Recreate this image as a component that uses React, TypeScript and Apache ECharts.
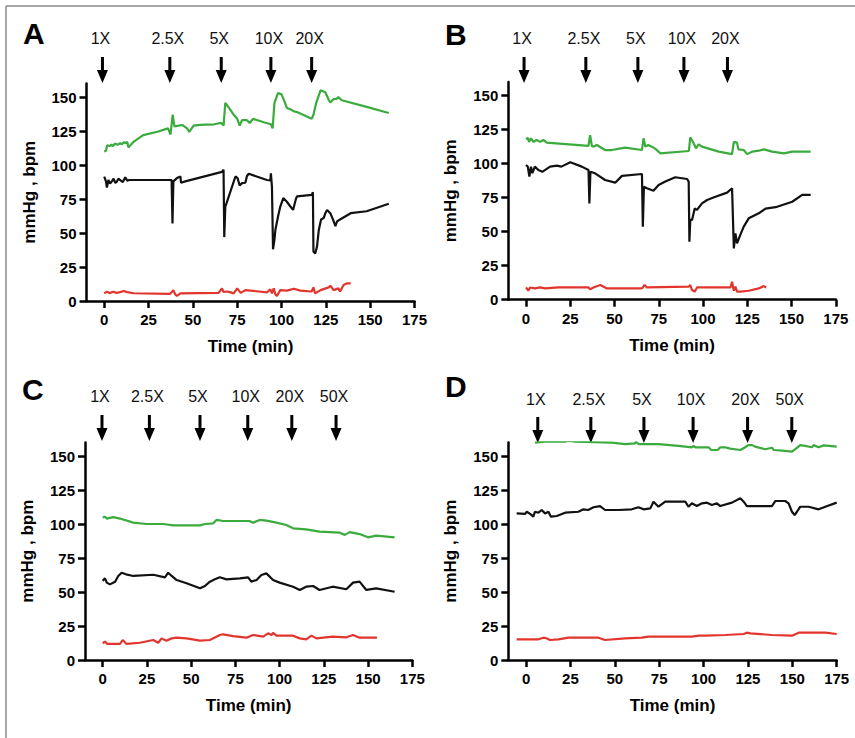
import React, { useEffect, useRef } from "react";
import * as echarts from "echarts";

// ---------- data ----------
const xTicks = [0, 25, 50, 75, 100, 125, 150, 175];
const yTicks = [0, 25, 50, 75, 100, 125, 150];
const panelLetters = ["A", "B", "C", "D"];

const doseLabels5 = ["1X", "2.5X", "5X", "10X", "20X"];
const doseLabels6 = ["1X", "2.5X", "5X", "10X", "20X", "50X"];
const doseTimesA = [-1, 37, 66, 94, 117];
const doseTimesB = [-1.1, 33.8, 63.2, 89.2, 113.8];
const doseTimesC = [-0.4, 26.4, 55, 82, 106.9, 131.9];
const doseTimesD = [6.6, 36.5, 66.4, 94.1, 124.8, 149.7];

const aGreen = [[0,110],[1,110.5],[1.6,114.5],[3,114],[4,115],[5,114],[6,115.8],[7.5,115],[9,116],[10,115.2],[11,116.8],[12,116.2],[13,117],[13.6,113],[15,115],[16.5,117],[22,122],[30,124.5],[36,127],[37.4,122.5],[38.6,137],[39.6,128.5],[42,129],[44,129.5],[46.7,127],[48,124.5],[50.4,129],[54,129.5],[62,130],[66,131],[67.3,129],[68.3,145.7],[71,141],[73,137],[75,134],[76.4,129],[77.7,133],[80.5,133],[82,131],[84,134],[90,131.5],[94,130],[95,127],[96,145.7],[98,153],[100,152],[101.6,147],[103,142],[105,141],[107,139.5],[108.7,139],[117,134],[118,137],[119.6,146],[122,155],[124.7,153.6],[126.6,148],[127.5,146],[129.4,148.6],[131,148.6],[132,150],[134,147.7],[148,142.8],[160.5,138.3]];
const aBlack = [[0,91.5],[1,88],[1.5,83.5],[2.4,89],[3.3,86.5],[4.3,88],[5.3,90],[6.2,87],[7,87.5],[8,90],[9,89],[10.5,87.5],[11.9,91],[13,88.5],[14,89],[16.5,89],[38,89],[38.5,57],[39,88],[41,90.4],[43,91.6],[43.3,87],[45.7,88],[66.4,95],[67.3,96.6],[67.7,47],[68.3,69.5],[69,72],[74,91.6],[75.2,90.4],[76.4,85],[77.7,86.7],[79.6,87],[80.5,92],[81.5,93.6],[91.8,89],[93.7,88.7],[94,94],[94.6,84],[95.2,38],[96,45],[96.5,52],[98,62],[99.3,69.5],[101,75.7],[103,73],[105,69.5],[106.5,67],[108,74.5],[108.7,77],[117,78],[117.7,80],[118,36.4],[119,35],[120,40],[121,52],[122.3,60],[123.8,61],[124.7,64.6],[125.7,67],[127.5,64.6],[129,60],[130.4,55],[131.3,58.5],[133,60],[139,64.6],[148,66],[160.5,71.5]];
const aRed = [[0,5.6],[1.5,6.9],[3,5.8],[5,6.8],[7,6],[9,6.5],[11,7.4],[13,6.5],[16.5,5.7],[37,5.2],[38,6.5],[39,8],[40,5],[41,3.7],[43,5.6],[64.5,6],[66.4,9.3],[67.3,6.6],[69,7],[71,6.5],[73,5.6],[75,9.3],[77,6],[79.6,8],[91.8,6.4],[93.7,8.6],[94.6,5.6],[95.6,9.3],[96.5,5],[97.4,3.7],[99.3,8],[103,7.6],[107,9],[110.6,7.6],[117,7],[118,10],[119,5.6],[122,8],[126.6,10],[127.5,11.3],[129.4,8],[132,9.3],[133,7],[135,11.8],[137,13],[139,13]];

const bGreen = [[0,117.9],[1,119],[1.7,116],[2.8,118.6],[4.2,116],[6,117.4],[8,116],[9.8,117.4],[11.7,115.4],[35.3,113],[36.2,121],[37.2,113],[38,112.5],[40,113.7],[44.7,110],[48.5,110],[56,111.8],[65.5,110],[66.4,118.6],[67.4,112.5],[69,113.7],[71,112.5],[73,111],[75.8,107.6],[92,109.3],[92.8,119.4],[94.7,115],[96,111.3],[97.5,114.2],[99.4,112.5],[108.9,108.8],[116.4,107],[117.4,116],[119.2,115.4],[120,110.5],[123,110],[124.9,107],[127.7,108.8],[131.5,109.5],[134.3,110.5],[139,108.8],[145.7,107.6],[150.4,108.8],[160.8,108.8]];
const bBlack = [[0,99],[1,97.8],[1.9,90.4],[2.8,97.8],[3.6,93],[5,97.8],[7,95.3],[9.2,94],[13.6,97.8],[17.4,98.5],[20,97.8],[25,101],[31.5,97.8],[35.3,95.3],[35.8,70.8],[36.4,94],[39,92.9],[44.7,88],[50.4,86],[54.2,91],[65.5,92.4],[66,53.7],[66.6,83],[68.3,81.9],[72,80],[74.9,84.3],[78.7,86.8],[84.3,90],[91,88.7],[91.9,86.8],[92.3,42.6],[92.8,58.6],[93.8,58.6],[95.3,67],[96.6,66],[99.4,70.8],[102.3,73.3],[107,75.7],[113.6,78.7],[116.4,81.9],[117.4,37.7],[118.3,48.8],[119.2,41.4],[121,47.5],[123,53.7],[125.8,59.8],[131.5,63.5],[135.3,67],[141,68],[150.4,72],[156,77],[160.8,77]];
const bRed = [[0,9],[1.3,6.6],[2.3,9],[5,8.3],[8,9],[10.8,8.3],[18.3,9],[35.3,9],[36.2,7.6],[38,9],[42,10.8],[45.7,8.3],[65.5,8.3],[67,10.8],[68.3,9],[92,9.6],[92.8,10.8],[93.8,7.1],[95.3,5.9],[96.6,9],[115.5,9],[116.4,13.2],[117.4,6.6],[118.3,9.6],[119.2,5.9],[121,5.9],[125.8,6.6],[131.5,8.3],[134.3,10],[135.7,9]];

const cGreen = [[0,104.7],[1.3,105.4],[2.3,104],[6,105],[9.8,104],[17.3,101],[24.8,100],[34.2,100],[40,99],[55,99],[57.8,100],[62.5,100.5],[64.3,103],[68,102.2],[83,102.2],[85,101],[88.8,103],[92.5,102.5],[98.2,101],[103.8,99.3],[107.6,96.8],[115,96],[122.6,94.4],[134,93.6],[136.8,92],[139.6,94],[145.2,92.6],[150,90.2],[154.6,91.4],[165,90.2]];
const cBlack = [[0,58.3],[1.3,60],[2.3,56.9],[4.1,55.6],[7,57.6],[8.8,61.8],[10.7,64.2],[13.2,63],[17.3,61.8],[28.6,62.7],[35.2,60.8],[37,64.2],[39,61.8],[41.8,58.8],[47.4,56.4],[55,52.7],[57.8,54.4],[60.6,57.6],[63.4,59.3],[66.2,60.8],[70,59.3],[77.5,60],[82.2,60.8],[84,57.6],[87,58.8],[89.7,62.5],[92.5,63.7],[96.3,58.8],[100,56.9],[107.6,53.9],[111.4,51.5],[115,53.9],[118.9,54.4],[122.6,51.5],[130,53.9],[137.7,52],[141.5,56.9],[145.2,57.6],[149,51.5],[154.6,52.7],[165,50.2]];
const cRed = [[0,12.3],[1.3,13.5],[2.6,11.8],[9.8,11.8],[11.3,14.7],[13.5,11.8],[21,12.7],[28.6,14.7],[31.4,12.7],[33.3,15.9],[36,14.2],[39,15.9],[41.8,16.4],[47.4,15.9],[55,14.2],[60.6,14.7],[66.2,18.4],[68,18.9],[73.7,17.6],[81.3,16.4],[85,18.4],[90.7,17.2],[93.5,19.6],[95.4,18.4],[96.3,20],[98.2,17.9],[107.6,17.9],[111.4,15.9],[115,15.2],[118,17.9],[120.8,15.9],[130,17.2],[137.7,16.7],[141.5,18.4],[145.2,16.4],[155,16.4]];

const dGreen = [[5,159.8],[10.7,160.5],[22,160.5],[23.9,161.3],[27.6,160.5],[48.3,159.8],[55.8,158.8],[61.5,159.3],[61.8,160.5],[63.3,158.8],[74.6,158.8],[85.9,157.4],[93.4,156.4],[94.4,157.4],[95.3,156.4],[102.8,156.4],[104.3,154.4],[108,154.4],[109.4,156.4],[112.2,156.4],[115,155.4],[120.7,154.4],[123.5,156.4],[124.4,157.4],[125.4,158],[127.3,158],[129,156.9],[134.8,155],[138.5,156.1],[139.5,154.4],[144.2,154],[149.8,153.2],[151.7,155],[154.5,158],[157.3,157.4],[161,156.4],[162,158],[164.8,156.4],[167.7,157.8],[175,156.9]];
const dBlack = [[-5.3,107.8],[-0.6,107.4],[0.4,109],[2.3,107.4],[4.1,105.4],[5,109],[7,108.3],[8.8,110.3],[10.7,107.8],[12.6,109],[14,105.4],[17.3,105.9],[22,108.3],[29.5,109],[32.3,110.8],[35,110.3],[38,112.3],[41.7,113.2],[44.5,110.3],[52,110.3],[59.6,110.8],[63.3,112.3],[66.2,110.8],[70,111.5],[71.8,116.4],[74.6,112.7],[78.4,116.4],[89.7,116.4],[91.5,112.7],[93.4,115.2],[96.2,113.2],[99.1,115.2],[101.9,115.7],[104.7,114],[107.5,115.2],[109.4,113.2],[116,115.7],[120.7,118.9],[122.6,116.4],[124.4,113.2],[131,113.2],[138.5,113.2],[140.4,116.9],[146,116.9],[147.9,115.2],[149.8,109],[151.3,106.6],[152.6,109],[154.5,112.7],[159.2,112.7],[164.8,110.8],[168.6,112.7],[175,115.7]];
const dRed = [[-5.3,15.2],[7,15.2],[9.8,16.4],[11.5,16],[13.5,14.7],[18.2,15.2],[23.9,16.4],[40.8,16.4],[44.5,14.7],[55.8,15.9],[65.2,16.4],[69,17.2],[93.4,17.2],[97.2,17.9],[101,17.9],[112.2,18.4],[122.6,19.1],[124.4,20.1],[126.3,19.6],[138.5,18.4],[149.8,17.9],[153.6,20.1],[168.6,20.1],[175,19.1]];

// ---------- styling / layout ----------
const FONT = "'Liberation Sans', Arial, Helvetica, sans-serif";
const GREEN = "#3aab3c";
const RED = "#e2352e";
const BLACK = "#111111";
const ARROW = "path://M4,0L7,0L7,13L11,13L5.5,26L0,13L4,13Z";

const panels = [
  { grid: { left: 86.5, top: 83.5, width: 328, height: 217.5 }, strip: 57, labelDist: 11, doses: doseTimesA, labels: doseLabels5, green: aGreen, black: aBlack, red: aRed, letter: [23, 34] },
  { grid: { left: 508.3, top: 82, width: 327.5, height: 217.7 }, strip: 57, labelDist: 11, doses: doseTimesB, labels: doseLabels5, green: bGreen, black: bBlack, red: bRed, letter: [445, 35] },
  { grid: { left: 85, top: 442.4, width: 327.3, height: 217.6 }, strip: 415, labelDist: 11, doses: doseTimesC, labels: doseLabels6, green: cGreen, black: cBlack, red: cRed, letter: [22, 390] },
  { grid: { left: 508.3, top: 442.4, width: 328.4, height: 217.6 }, strip: 417, labelDist: 10, doses: doseTimesD, labels: doseLabels6, green: dGreen, black: dBlack, red: dRed, letter: [445, 387.5] },
];

function buildOption() {
  const grid: any[] = [];
  const xAxis: any[] = [];
  const yAxis: any[] = [];
  const series: any[] = [];
  const axisLineStyle = { color: "#000", width: 2.5 };
  const labelStyle = { color: "#000", fontWeight: "bold", fontSize: 15, fontFamily: FONT };
  const nameStyle = { color: "#000", fontWeight: "bold", fontSize: 17, fontFamily: FONT };

  panels.forEach((p, i) => {
    grid.push({ ...p.grid });
    xAxis.push({
      gridIndex: i, type: "value", min: -10, max: 175,
      splitLine: { show: false },
      axisLine: { show: true, onZero: false, lineStyle: axisLineStyle },
      axisTick: { show: true, customValues: xTicks, length: 7, lineStyle: axisLineStyle },
      axisLabel: { customValues: xTicks, margin: 11, ...labelStyle },
      name: "Time (min)", nameLocation: "middle", nameGap: 37, nameTextStyle: nameStyle,
    });
    yAxis.push({
      gridIndex: i, type: "value", min: 0, max: 160,
      splitLine: { show: false },
      axisLine: { show: true, onZero: false, lineStyle: axisLineStyle },
      axisTick: { show: true, customValues: yTicks, length: 7, lineStyle: axisLineStyle },
      axisLabel: { customValues: yTicks, margin: 10, ...labelStyle },
      name: "mmHg , bpm", nameLocation: "middle", nameGap: 49, nameRotate: 90, nameTextStyle: nameStyle,
    });
    const lines: [number[][], string][] = [[p.green, GREEN], [p.black, BLACK], [p.red, RED]];
    lines.forEach(([d, c]) => {
      series.push({
        type: "line", xAxisIndex: i, yAxisIndex: i, data: d, showSymbol: false, symbol: "none",
        lineStyle: { color: c, width: 2.2 }, itemStyle: { color: c }, silent: true,
      });
    });
  });

  panels.forEach((p, i) => {
    const gi = panels.length + i;
    grid.push({ left: p.grid.left, width: p.grid.width, top: p.strip, height: 26 });
    xAxis.push({ gridIndex: gi, type: "value", min: -10, max: 175, show: false });
    yAxis.push({ gridIndex: gi, type: "value", min: 0, max: 1, show: false });
    series.push({
      type: "scatter", xAxisIndex: gi, yAxisIndex: gi, silent: true,
      data: p.doses.map((t) => [t, 0.5]),
      symbol: ARROW, symbolSize: [11, 26],
      itemStyle: { color: "#000", opacity: 1 },
      label: {
        show: true, position: "top", distance: p.labelDist, offset: [-2, 0],
        formatter: (prm: any) => p.labels[prm.dataIndex],
        fontSize: 16, color: "#111", opacity: 1, fontFamily: FONT,
      },
    });
  });

  const graphic: any[] = [
    { type: "line", shape: { x1: 6, y1: 6, x2: 855, y2: 6 }, style: { stroke: "#8a8a8a", lineWidth: 1.5 }, silent: true },
    { type: "line", shape: { x1: 6, y1: 6, x2: 6, y2: 738 }, style: { stroke: "#8a8a8a", lineWidth: 1.5 }, silent: true },
  ];
  panels.forEach((p, i) => {
    graphic.push({
      type: "text", left: p.letter[0], top: p.letter[1] - 16, silent: true,
      style: { text: panelLetters[i], fill: "#000", font: `bold 30px ${FONT}` },
    });
  });

  return { animation: false, backgroundColor: "#fff", textStyle: { fontFamily: FONT }, grid, xAxis, yAxis, series, graphic };
}

export default function App() {
  const ref = useRef<HTMLDivElement>(null);
  useEffect(() => {
    if (!ref.current) return;
    const chart = echarts.init(ref.current, undefined, { renderer: "svg" });
    chart.setOption(buildOption());
    return () => chart.dispose();
  }, []);
  return <div ref={ref} style={{ position: "absolute", left: 0, top: 0, width: 855, height: 738 }} />;
}
